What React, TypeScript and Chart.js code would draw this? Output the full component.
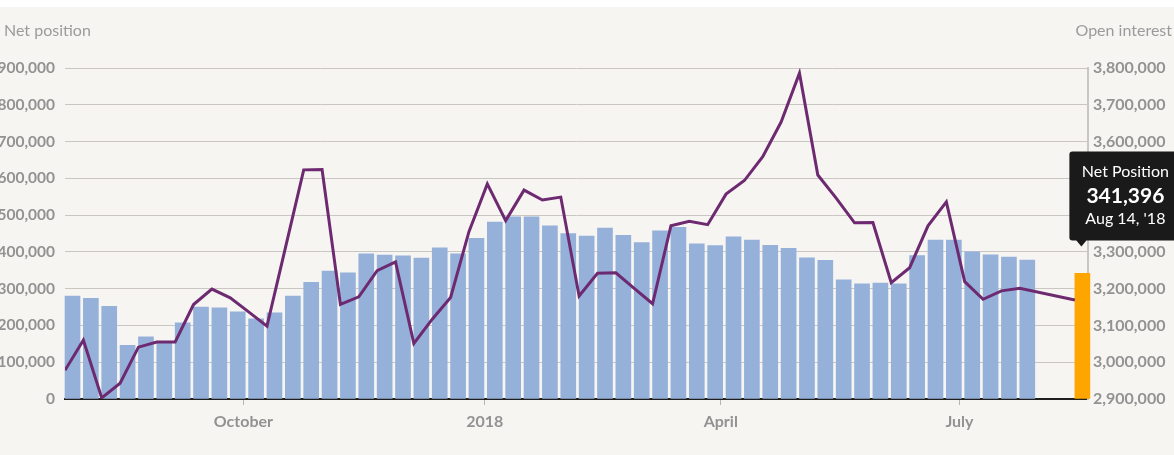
import React, { useEffect, useRef } from 'react';
import { Chart, registerables } from 'chart.js';

Chart.register(...registerables);

// Weekly report dates (categories)
const WEEKS = [
  '2017-07-25', '2017-08-01', '2017-08-08', '2017-08-15', '2017-08-22', '2017-08-29',
  '2017-09-05', '2017-09-12', '2017-09-19', '2017-09-26', '2017-10-03', '2017-10-10',
  '2017-10-17', '2017-10-24', '2017-10-31', '2017-11-07', '2017-11-14', '2017-11-21',
  '2017-11-28', '2017-12-05', '2017-12-12', '2017-12-19', '2017-12-26', '2018-01-02',
  '2018-01-09', '2018-01-16', '2018-01-23', '2018-01-30', '2018-02-06', '2018-02-13',
  '2018-02-20', '2018-02-27', '2018-03-06', '2018-03-13', '2018-03-20', '2018-03-27',
  '2018-04-03', '2018-04-10', '2018-04-17', '2018-04-24', '2018-05-01', '2018-05-08',
  '2018-05-15', '2018-05-22', '2018-05-29', '2018-06-05', '2018-06-12', '2018-06-19',
  '2018-06-26', '2018-07-03', '2018-07-10', '2018-07-17', '2018-07-24', '2018-07-31',
  '2018-08-07', '2018-08-14',
];

// Net position (bars, left axis)
const NET_POSITION: (number | null)[] = [
  280000, 274000, 252000, 146000, 169000, 156000, 207000, 250000, 248000, 237000,
  218000, 234000, 280000, 317000, 348000, 343000, 395000, 391000, 389000, 383000,
  411000, 395000, 437000, 481000, 495000, 495000, 471000, 450000, 443000, 465000,
  445000, 425000, 457000, 467000, 422000, 417000, 441000, 432000, 418000, 410000,
  384000, 377000, 324000, 313000, 315000, 313000, 390000, 432000, 432000, 400000,
  392000, 386000, 378000, null, null, 341396,
];

// Open interest (line, right axis)
const OPEN_INTEREST: (number | null)[] = [
  2978000, 3060000, 2903000, 2943000, 3041000, 3055000, 3055000, 3157000, 3199000, 3175000,
  3137000, 3098000, 3310000, 3523000, 3524000, 3157000, 3178000, 3249000, 3273000, 3051000,
  3117000, 3176000, 3355000, 3485000, 3385000, 3468000, 3441000, 3449000, 3180000, 3242000,
  3243000, 3201000, 3159000, 3371000, 3383000, 3374000, 3457000, 3494000, 3559000, 3653000,
  3786000, 3509000, 3446000, 3379000, 3380000, 3216000, 3257000, 3371000, 3436000, 3219000,
  3171000, 3194000, 3201000, null, null, 3169000,
];

const X_TICK_DATES = ['2017-10-01', '2018-01-01', '2018-04-01', '2018-07-01'];
const X_TICK_LABELS = ['October', '2018', 'April', 'July'];

const LEFT_TITLE = 'Net position';
const RIGHT_TITLE = 'Open interest';
const TOOLTIP_TITLE = 'Net Position';
const HIGHLIGHT_INDEX = 55;
const MONTHS = ['Jan', 'Feb', 'Mar', 'Apr', 'May', 'Jun', 'Jul', 'Aug', 'Sep', 'Oct', 'Nov', 'Dec'];

const DAY_MS = 86400000;
const dayOf = (d: string) =>
  (Date.parse(d + 'T00:00:00Z') - Date.parse(WEEKS[0] + 'T00:00:00Z')) / DAY_MS;

const FONT = 'Lato, "Open Sans", sans-serif';
const TICK_COLOR = '#929292';
const BAR_COLOR = '#95b1d9';
const HIGHLIGHT_COLOR = '#ffa500';
const LINE_COLOR = '#6d2a70';
const BAR_SHIFT_DAYS = 2.86;

const fmt = (v: number) => Number(v).toLocaleString('en-US');

const fmtDate = (s: string) => {
  const d = new Date(s + 'T00:00:00Z');
  return `${MONTHS[d.getUTCMonth()]} ${d.getUTCDate()}, '${String(d.getUTCFullYear()).slice(2)}`;
};

const titlesPlugin = {
  id: 'axisTitles',
  afterDraw(chart: any) {
    const ctx = chart.ctx;
    ctx.save();
    ctx.font = `16px ${FONT}`;
    ctx.fillStyle = '#9b9b9b';
    ctx.textBaseline = 'middle';
    ctx.textAlign = 'left';
    ctx.fillText(LEFT_TITLE, 4, 24);
    ctx.textAlign = 'right';
    ctx.fillText(RIGHT_TITLE, chart.width - 2, 24);
    ctx.restore();
  },
};

const tooltipPlugin = {
  id: 'fixedTooltip',
  afterDraw(chart: any) {
    const meta = chart.getDatasetMeta(0);
    const el = meta.data[HIGHLIGHT_INDEX];
    if (!el) return;
    const ctx = chart.ctx;
    const tipX = el.x - 1;
    const tipY = el.y - 27;
    const boxBottom = tipY - 6;
    const boxTop = boxBottom - 89;
    const boxLeft = el.x - 13;
    const boxW = 110;
    const r = 3;
    ctx.save();
    ctx.fillStyle = '#1a1a1a';
    ctx.beginPath();
    ctx.moveTo(boxLeft + r, boxTop);
    ctx.lineTo(boxLeft + boxW - r, boxTop);
    ctx.quadraticCurveTo(boxLeft + boxW, boxTop, boxLeft + boxW, boxTop + r);
    ctx.lineTo(boxLeft + boxW, boxBottom - r);
    ctx.quadraticCurveTo(boxLeft + boxW, boxBottom, boxLeft + boxW - r, boxBottom);
    ctx.lineTo(tipX + 5, boxBottom);
    ctx.lineTo(tipX, tipY);
    ctx.lineTo(tipX - 5, boxBottom);
    ctx.lineTo(boxLeft + r, boxBottom);
    ctx.quadraticCurveTo(boxLeft, boxBottom, boxLeft, boxBottom - r);
    ctx.lineTo(boxLeft, boxTop + r);
    ctx.quadraticCurveTo(boxLeft, boxTop, boxLeft + r, boxTop);
    ctx.closePath();
    ctx.fill();

    const cx = boxLeft + 56;
    ctx.fillStyle = '#ffffff';
    ctx.textAlign = 'center';
    ctx.textBaseline = 'middle';
    ctx.font = `16px ${FONT}`;
    ctx.fillText(TOOLTIP_TITLE, cx, boxTop + 20);
    ctx.font = `bold 21px ${FONT}`;
    ctx.fillText(fmt(NET_POSITION[HIGHLIGHT_INDEX] as number), cx, boxTop + 45);
    ctx.font = `16px ${FONT}`;
    ctx.fillText(fmtDate(WEEKS[HIGHLIGHT_INDEX]), cx, boxTop + 67);
    ctx.restore();
  },
};

export default function App() {
  const ref = useRef<HTMLCanvasElement>(null);

  useEffect(() => {
    document.body.style.margin = '0';
    const tickFont = { family: FONT, size: 16, weight: 'bold' as any };
    const leftTickFont = { family: FONT, size: 15.5, weight: 'bold' as any };

    const barData = NET_POSITION.map((v, i) => ({ x: dayOf(WEEKS[i]) + BAR_SHIFT_DAYS, y: v }));
    const lineData = OPEN_INTEREST.map((v, i) => ({ x: dayOf(WEEKS[i]), y: v }));
    const barColors = NET_POSITION.map((_, i) => (i === HIGHLIGHT_INDEX ? HIGHLIGHT_COLOR : BAR_COLOR));

    const chart = new Chart(ref.current as HTMLCanvasElement, {
      type: 'bar',
      data: {
        datasets: [
          {
            type: 'bar',
            label: 'Net position',
            data: barData as any,
            backgroundColor: barColors,
            barThickness: 15,
            yAxisID: 'y',
            order: 1,
            clip: false as any,
          },
          {
            type: 'line',
            label: 'Open interest',
            data: lineData as any,
            borderColor: LINE_COLOR,
            borderWidth: 3,
            pointRadius: 0,
            tension: 0,
            spanGaps: true,
            fill: false,
            yAxisID: 'y1',
            order: 0,
          },
        ],
      },
      options: {
        animation: false,
        responsive: true,
        maintainAspectRatio: false,
        events: [],
        layout: { padding: { top: 61, left: 0, right: 0, bottom: 0 } },
        plugins: {
          legend: { display: false },
          tooltip: { enabled: false },
        },
        scales: {
          x: {
            type: 'linear',
            offset: false,
            min: 0,
            max: 390,
            afterBuildTicks: (s: any) => {
              s.ticks = X_TICK_DATES.map((d) => ({ value: dayOf(d) }));
            },
            afterFit: (s: any) => {
              s.height = 56;
            },
            ticks: {
              autoSkip: false,
              maxRotation: 0,
              padding: 7,
              color: TICK_COLOR,
              font: tickFont,
              callback: (_v: any, i: number) => X_TICK_LABELS[i] ?? '',
            },
            grid: {
              offset: false,
              drawOnChartArea: false,
              drawTicks: true,
              tickLength: 6,
              color: '#b8b6b2',
            },
            border: { display: true, color: '#1f1f1f', width: 2 },
          },
          y: {
            position: 'left',
            min: 0,
            max: 900000,
            afterFit: (s: any) => {
              s.width = 65;
            },
            ticks: {
              stepSize: 100000,
              padding: 10,
              color: TICK_COLOR,
              font: leftTickFont,
              callback: (v: any) => fmt(v),
            },
            grid: {
              drawTicks: false,
              lineWidth: 1,
              color: (c: any) => (c.tick && c.tick.value === 0 ? 'rgba(0,0,0,0)' : '#cac7c3'),
            },
            border: { display: false },
          },
          y1: {
            position: 'right',
            min: 2900000,
            max: 3800000,
            afterFit: (s: any) => {
              s.width = 86;
            },
            ticks: {
              stepSize: 100000,
              padding: 5,
              color: TICK_COLOR,
              font: tickFont,
              callback: (v: any) => fmt(v),
            },
            grid: { display: false, drawTicks: false },
            border: { display: true, color: '#c9c7c3', width: 2 },
          },
        },
      } as any,
      plugins: [titlesPlugin, tooltipPlugin],
    });

    return () => chart.destroy();
  }, []);

  return (
    <div style={{ paddingTop: 7, background: '#ffffff' }}>
      <div style={{ position: 'relative', width: 1174, height: 448, background: '#f7f5f2' }}>
        <canvas ref={ref} />
      </div>
    </div>
  );
}
